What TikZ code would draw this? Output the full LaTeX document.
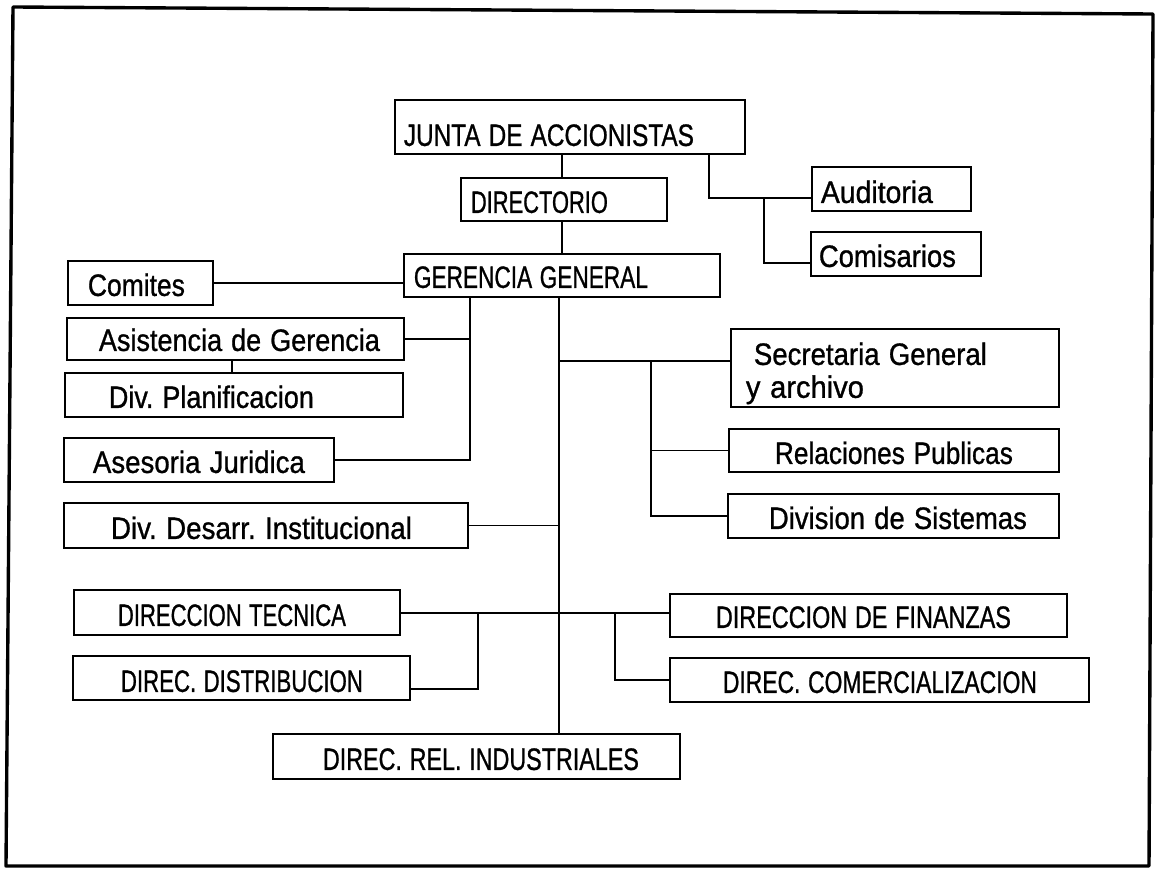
\documentclass[tikz,border=0pt]{standalone}
\usepackage{fontspec}
\setmainfont{Liberation Sans}
\newfontfamily\orgfont{Liberation Sans}[FakeBold=1]
\usepackage{graphicx}

% one drawing unit
\newdimen\px \px=0.025cm
% set a label to an exact width, keeping its height
\newcommand{\fitw}[2]{\resizebox{#1\px}{\height}{#2}}

\tikzset{
  % width, height above baseline, depth below baseline
  orgbox/.style n args={3}{draw, line width=1.3pt, anchor=north west, inner sep=0pt,
    text width=#1\px, text height=#2\px, text depth=#3\px, align=left,
    font=\orgfont\fontsize{22pt}{23.4pt}\selectfont\frenchspacing},
  link/.style={line width=1.3pt},
  frame/.style={line width=2.4pt, line join=round}
}

\begin{document}
\begin{tikzpicture}[x=0.025cm, y=-0.025cm]
\useasboundingbox (0,0) rectangle (1161,868);
\fill[white] (0,0) rectangle (1161,868);

% sheet border
\draw[frame] (13,7) -- (1153,14) -- (1149,866) -- (6,866) -- cycle;

% top levels
\node[orgbox={350}{46}{8}] (junta) at (394,99) {\hspace*{9\px}\fitw{290}{JUNTA DE ACCIONISTAS}};
\node[orgbox={206}{35}{8}] (dir) at (460,177) {\hspace*{10\px}\fitw{137}{DIRECTORIO}};
\node[orgbox={316}{34}{9}] (ger) at (403,253) {\hspace*{10\px}\fitw{234}{GERENCIA GENERAL}};
\node[orgbox={159}{36}{8}] (aud) at (811,166) {\hspace*{9\px}\fitw{112}{Auditoria}};
\node[orgbox={170}{35}{9}] (comis) at (810,231) {\hspace*{8\px}\fitw{137}{Comisarios}};

% staff units on the left
\node[orgbox={145}{35}{9}] (comites) at (67,260) {\hspace*{20\px}\fitw{97}{Comites}};
\node[orgbox={337}{33}{9}] (asist) at (66,317) {\hspace*{32\px}\fitw{281}{Asistencia de Gerencia}};
\node[orgbox={338}{35}{9}] (plan) at (64,372) {\hspace*{44\px}\fitw{205}{Div. Planificacion}};
\node[orgbox={270}{35}{9}] (jur) at (63,437) {\hspace*{29\px}\fitw{212}{Asesoria Juridica}};
\node[orgbox={404}{36}{9}] (desarr) at (63,502) {\hspace*{47\px}\fitw{301}{Div. Desarr. Institucional}};

% staff units on the right
\node[orgbox={328}{36}{42}] (secr) at (730,328) {\hspace*{23\px}\fitw{233}{Secretaria General}\\\hspace*{15\px}\fitw{118}{y archivo}};
\node[orgbox={330}{35}{8}] (relp) at (728,428) {\hspace*{46\px}\fitw{238}{Relaciones Publicas}};
\node[orgbox={331}{35}{9}] (sist) at (727,493) {\hspace*{41\px}\fitw{258}{Division de Sistemas}};

% line directorates
\node[orgbox={326}{36}{9}] (tec) at (73,589) {\hspace*{44\px}\fitw{228}{DIRECCION TECNICA}};
\node[orgbox={337}{36}{8}] (distr) at (72,655) {\hspace*{48\px}\fitw{242}{DIREC. DISTRIBUCION}};
\node[orgbox={397}{34}{9}] (fin) at (669,593) {\hspace*{46\px}\fitw{295}{DIRECCION DE FINANZAS}};
\node[orgbox={419}{35}{9}] (comer) at (669,657) {\hspace*{53\px}\fitw{314}{DIREC. COMERCIALIZACION}};
\node[orgbox={407}{36}{9}] (reli) at (272,733) {\hspace*{50\px}\fitw{316}{DIREC. REL. INDUSTRIALES}};

% junction points of the connectors
\coordinate (tu) at (562,0);
\coordinate (tx) at (559,0);
\coordinate (ja) at (709,198);
\coordinate (jc) at (764,263);
\coordinate (yc) at (0,283);
\coordinate (lb) at (470,0);
\coordinate (ap) at (232,0);
\coordinate (js) at (651,361);
\coordinate (jl) at (478,613);
\coordinate (jr) at (615,613);
\coordinate (yd) at (0,689);

% main line of authority
\draw[link] (junta.south -| tu) -- (dir.north -| tu);
\draw[link] (dir.south -| tu) -- (ger.north -| tu);
\draw[link] (ger.south -| tx) -- (reli.north -| tx);

% control bodies
\draw[link] (junta.south -| ja) |- (aud.west |- ja);
\draw[link] (ja -| jc) |- (comis.west |- jc);

% left staff branch
\draw[link] (comites.east |- yc) -- (ger.west |- yc);
\draw[link] (ger.south -| lb) |- (jur.east);
\draw[link] (asist.east) -- (asist.east -| lb);
\draw[link] (asist.south -| ap) -- (plan.north -| ap);
\draw[link] (desarr.east) -- (desarr.east -| tx);

% right staff branch
\draw[link] (js -| tx) -- (secr.west |- js);
\draw[link] (js) |- (sist.west);
\draw[link] (relp.west) -- (relp.west -| js);

% directorates
\draw[link] (tec.east |- jl) -- (fin.west |- jl);
\draw[link] (jl) |- (distr.east |- yd);
\draw[link] (jr) |- (comer.west);
\end{tikzpicture}
\end{document}
